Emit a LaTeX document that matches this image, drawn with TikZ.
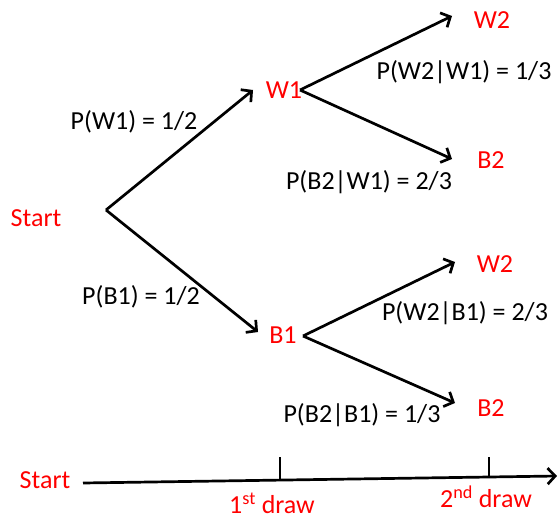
\documentclass[tikz,border=0pt]{standalone}
\usepackage{fontspec}
\setmainfont{Carlito}
\usetikzlibrary{arrows.meta}
\definecolor{lblred}{RGB}{255,0,0}
\tikzset{
  x=1pt, y=-1pt,
  barb/.style={-{Straight Barb[length=7.5pt,width=16pt,line width=2.7pt]}},
  branch/.style={line width=2.7pt, barb},
  outcome/.style={text=lblred, inner sep=0pt, font=\fontsize{26}{31}\selectfont},
  prob/.style={text=black, inner sep=0pt, font=\fontsize{26}{31}\selectfont},
  axis/.style={line width=2.7pt},
}
\begin{document}
\begin{tikzpicture}
\useasboundingbox (0,0) rectangle (557,516);

% outcome labels
\node[outcome] (start) at (36,218) {Start};
\node[outcome] (w1) at (284,90) {W1};
\node[outcome] (b1) at (283,335) {B1};
\node[outcome] (w2a) at (492,20) {W2};
\node[outcome] (b2a) at (491,160) {B2};
\node[outcome] (w2b) at (495,264) {W2};
\node[outcome] (b2b) at (491,408) {B2};

% branching points and arrow ends
\coordinate (root) at (106,210);
\coordinate (w1in) at (253,90);
\coordinate (b1in) at (258,332);
\coordinate (w1out) at (300,90);
\coordinate (b1out) at (303,336);
\coordinate (w2ain) at (452,16);
\coordinate (b2ain) at (452,159);
\coordinate (w2bin) at (455,262);
\coordinate (b2bin) at (455,403);

% branches
\draw[branch] (root) -- (w1in);
\draw[branch] (root) -- (b1in);
\draw[branch] (w1out) -- (w2ain);
\draw[branch] (w1out) -- (b2ain);
\draw[branch] (b1out) -- (w2bin);
\draw[branch] (b1out) -- (b2bin);

% probabilities
\node[prob] (pw1) at (134,122) {P(W1) = 1/2};
\node[prob] (pb1) at (141,297) {P(B1) = 1/2};
\node[prob] (pw2w1) at (464,72) {P(W2|W1) = 1/3};
\node[prob] (pb2w1) at (369,182) {P(B2|W1) = 2/3};
\node[prob] (pw2b1) at (465,313) {P(W2|B1) = 2/3};
\node[prob] (pb2b1) at (362,415) {P(B2|B1) = 1/3};

% time axis
\node[outcome] (tstart) at (45,480) {Start};
\coordinate (axl) at (83,483);
\coordinate (axr) at (557,476);
\draw[axis, barb] (axl) -- (axr);
\coordinate (t1top) at (280,457);
\coordinate (t1bot) at (280,480);
\coordinate (t2top) at (489,457);
\coordinate (t2bot) at (489,477);
\draw[axis] (t1top) -- (t1bot);
\draw[axis] (t2top) -- (t2bot);
\node[outcome] (d1) at (272,503) {1\textsuperscript{st} draw};
\node[outcome] (d2) at (486,497) {2\textsuperscript{nd} draw};
\end{tikzpicture}
\end{document}
